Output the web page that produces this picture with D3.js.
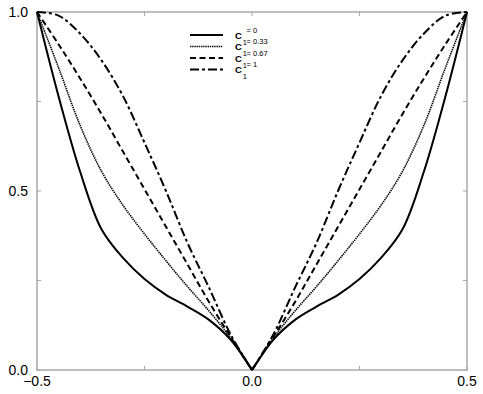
<!DOCTYPE html>
<html>
<head>
<meta charset="utf-8">
<script src="https://cdnjs.cloudflare.com/ajax/libs/d3/7.8.5/d3.min.js"></script>
<style>
body { margin: 0; background: #fff; }
text { font-family: "Liberation Sans", Arial, sans-serif; fill: #000; }
</style>
</head>
<body>
<svg id="chart"></svg>
<script>
// ------------------ data --------------------------------------------

let xValues = [-0.5, -0.45, -0.4, -0.35, -0.3, -0.25, -0.2, -0.15, -0.1, -0.05, 0,
               0.05, 0.1, 0.15, 0.2, 0.25, 0.3, 0.35, 0.4, 0.45, 0.5];

let c1_0    = [1.0, 0.765, 0.555, 0.393, 0.313, 0.254, 0.21, 0.177, 0.14, 0.085, 0,
               0.085, 0.14, 0.177, 0.21, 0.254, 0.313, 0.393, 0.555, 0.765, 1.0];
let c1_033  = [1.0, 0.845, 0.684, 0.555, 0.46, 0.38, 0.305, 0.233, 0.165, 0.09, 0,
               0.09, 0.165, 0.233, 0.305, 0.38, 0.46, 0.555, 0.684, 0.845, 1.0];
let c1_067  = [1.0, 0.91, 0.815, 0.715, 0.61, 0.505, 0.4, 0.295, 0.19, 0.093, 0,
               0.093, 0.19, 0.295, 0.4, 0.505, 0.61, 0.715, 0.815, 0.91, 1.0];
let c1_1    = [1.0, 0.99, 0.94, 0.865, 0.765, 0.635, 0.5, 0.355, 0.23, 0.1, 0,
               0.1, 0.23, 0.355, 0.5, 0.635, 0.765, 0.865, 0.94, 0.99, 1.0];

let legendLabels = ['= 0', '= 0.33', '= 0.67', '= 1'];

let xTicks = [-0.5, 0, 0.5];
let yTicks = [0, 0.5, 1];
let xTickLabels = ['\u22120.5', '0.0', '0.5'];
let yTickLabels = ['0.0', '0.5', '1.0'];
let xMinor = [-0.25, 0.25];
let yMinor = [0.25, 0.75];

// ------------------ setup ---------------------

let svgWidth = 483;
let svgHeight = 394;

let svg = d3.select('#chart')
    .attr('width', svgWidth)
    .attr('height', svgHeight);

let xScale = d3.scaleLinear()
    .domain([-0.5, 0.5])
    .range([37, 467]);

let yScale = d3.scaleLinear()
    .domain([0, 1])
    .range([370, 12]);

// line styles, same order as the series
let series = [c1_0, c1_033, c1_067, c1_1];
let dashes = [null, '1.4,0.8', '6,3.5', '9,3,3,3'];
let widths = [2, 1.6, 2, 2];

// ------------------ frame and ticks ---------------------

let frameColor = '#a8a8a8';

svg.append('rect')
    .attr('x', xScale(-0.5))
    .attr('y', yScale(1))
    .attr('width', xScale(0.5) - xScale(-0.5))
    .attr('height', yScale(0) - yScale(1))
    .attr('fill', 'none')
    .attr('stroke', frameColor)
    .attr('stroke-width', 1.5);

let tickLen = 4;

// x ticks on bottom and top, pointing inside
svg.selectAll('.xtick')
    .data(xTicks.concat(xMinor))
    .enter()
    .append('path')
    .attr('d', function(d) {
        let x = xScale(d);
        return 'M' + x + ',' + yScale(0) + 'v' + (-tickLen) +
               'M' + x + ',' + yScale(1) + 'v' + tickLen;
    })
    .attr('stroke', frameColor)
    .attr('stroke-width', 1);

// y ticks on left and right
svg.selectAll('.ytick')
    .data(yTicks.concat(yMinor))
    .enter()
    .append('path')
    .attr('d', function(d) {
        let y = yScale(d);
        return 'M' + xScale(-0.5) + ',' + y + 'h' + tickLen +
               'M' + xScale(0.5) + ',' + y + 'h' + (-tickLen);
    })
    .attr('stroke', frameColor)
    .attr('stroke-width', 1);

svg.selectAll('.xlabel')
    .data(xTicks)
    .enter()
    .append('text')
    .attr('x', function(d) { return xScale(d); })
    .attr('y', 386)
    .attr('text-anchor', 'middle')
    .attr('font-size', 14)
    .text(function(d, i) { return xTickLabels[i]; });

svg.selectAll('.ylabel')
    .data(yTicks)
    .enter()
    .append('text')
    .attr('x', 28)
    .attr('y', function(d) { return yScale(d) + 5; })
    .attr('text-anchor', 'end')
    .attr('font-size', 14)
    .text(function(d, i) { return yTickLabels[i]; });

// ------------------ curves ---------------------

let line = d3.line()
    .x(function(d) { return xScale(d[0]); })
    .y(function(d) { return yScale(d[1]); })
    .curve(d3.curveCatmullRom.alpha(0.5));

series.forEach(function(values, s) {
    let pts = xValues.map(function(x, i) { return [x, values[i]]; });
    // left and right branch drawn apart so the cusp at 0 stays sharp
    let halves = [pts.filter(function(p) { return p[0] <= 0; }),
                  pts.filter(function(p) { return p[0] >= 0; })];
    svg.selectAll('.curve' + s)
        .data(halves)
        .enter()
        .append('path')
        .attr('d', line)
        .attr('fill', 'none')
        .attr('stroke', '#000')
        .attr('stroke-width', widths[s])
        .attr('stroke-dasharray', dashes[s]);
});

// ------------------ legend ---------------------

let legend = svg.selectAll('.legend')
    .data(legendLabels)
    .enter()
    .append('g')
    .attr('transform', function(d, i) {
        return 'translate(190,' + (35 + i * 11.5) + ')';
    });

legend.append('line')
    .attr('x1', 0)
    .attr('x2', 33)
    .attr('stroke', '#000')
    .attr('stroke-width', function(d, i) { return widths[i]; })
    .attr('stroke-dasharray', function(d, i) { return dashes[i]; });

legend.append('text')
    .attr('x', 45)
    .attr('y', 3.6)
    .attr('font-size', 9.6)
    .attr('font-weight', 'bold')
    .text('C');

legend.append('text')
    .attr('x', 52.8)
    .attr('y', 9.5)
    .attr('font-size', 7.5)
    .text('1');

legend.append('text')
    .attr('x', 56.5)
    .attr('y', -2.5)
    .attr('font-size', 7.5)
    .text(function(d) { return d; });
</script>
</body>
</html>
